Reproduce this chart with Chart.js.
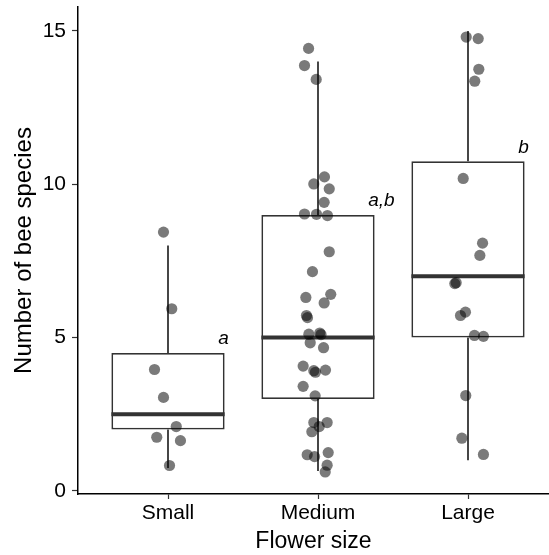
<!DOCTYPE html>
<html>
<head>
<meta charset="utf-8">
<script src="https://cdn.jsdelivr.net/npm/chart.js@4.4.1/dist/chart.umd.min.js"></script>
<style>
  html, body { margin: 0; padding: 0; background: #fff; }
  #chart { display: block; }
</style>
</head>
<body>
<canvas id="chart" width="549" height="555"></canvas>
<script>
// categories
const groups = ['Small', 'Medium', 'Large'];
const letters = ['a', 'a,b', 'b'];

// box stats per group
const whiskerLow  = [0.75, 0.65, 1];
const q1          = [2, 3, 5];
const median      = [2.5, 5, 7];
const q3          = [4.5, 9, 10.75];
const whiskerHigh = [8, 14, 15];

// jittered points: values and horizontal jitter (in category units)
const smallY = [8.44, 5.94, 3.96, 3.05, 2.10, 1.75, 1.64, 0.83];
const smallJit = [-0.03, 0.025, -0.09, -0.03, 0.055, -0.075, 0.083, 0.01];

const mediumY = [14.43, 13.87, 13.42, 10.24, 10.01, 9.85, 9.41, 9.03, 9.02, 8.98,
  7.80, 7.15, 6.41, 6.31, 6.13, 5.72, 5.65, 5.15, 5.10, 5.11, 4.83, 4.67, 4.07,
  3.94, 3.92, 3.87, 3.41, 3.10, 2.23, 2.23, 2.10, 1.93, 1.25, 1.18, 1.12, 0.84, 0.62];
const mediumJit = [-0.063, -0.09, -0.012, 0.043, -0.028, 0.075, 0.041, -0.09, -0.01, 0.063,
  0.075, -0.037, 0.085, -0.081, 0.041, -0.077, -0.07, 0.012, 0.02, -0.061, -0.052, 0.037, -0.099,
  0.05, -0.028, -0.017, -0.099, -0.019, -0.028, 0.061, 0.008, -0.041, 0.068, -0.072, -0.023, 0.061, 0.048];

const largeY = [14.80, 14.75, 13.75, 13.36, 10.19, 8.08, 7.68, 6.79, 6.76, 5.83,
  5.72, 5.07, 5.04, 3.11, 1.72, 1.19];
const largeJit = [-0.012, 0.068, 0.072, 0.045, -0.032, 0.097, 0.079, -0.079, -0.088, -0.017,
  -0.05, 0.043, 0.103, -0.015, -0.041, 0.103];

const yTicks = [0, 5, 10, 15];

const BOX_WIDTH = 0.755;
const FONT = '"Liberation Sans", Arial, sans-serif';
const INK = '#333333';

const pointSets = [[smallY, smallJit], [mediumY, mediumJit], [largeY, largeJit]];
const points = [];
pointSets.forEach((s, g) => {
  s[0].forEach((v, i) => points.push({ x: g + 1 + s[1][i], y: v }));
});

const boxes = groups.map((g, i) => ({ x: i + 1, y: [q1[i], q3[i]] }));

const whiskers = [];
const medians = [];
groups.forEach((g, i) => {
  const x = i + 1;
  whiskers.push({ x, y: q3[i] }, { x, y: whiskerHigh[i] }, { x, y: null });
  whiskers.push({ x, y: q1[i] }, { x, y: whiskerLow[i] }, { x, y: null });
  medians.push({ x: x - BOX_WIDTH / 2, y: median[i] }, { x: x + BOX_WIDTH / 2, y: median[i] }, { x, y: null });
});

// significance letters, drawn at the top right of each box
const letterPlugin = {
  id: 'letters',
  afterDatasetsDraw(chart) {
    const { ctx, scales } = chart;
    ctx.save();
    ctx.fillStyle = '#000';
    ctx.font = 'italic 19px ' + FONT;
    ctx.textAlign = 'left';
    ctx.textBaseline = 'alphabetic';
    letters.forEach((t, i) => {
      const px = scales.x.getPixelForValue(i + 1 + 0.335);
      const py = scales.y.getPixelForValue(q3[i] + 0.28);
      ctx.fillText(t, px, py);
    });
    ctx.restore();
  }
};

new Chart(document.getElementById('chart'), {
  type: 'scatter',
  data: {
    datasets: [
      {
        type: 'scatter',
        data: points,
        backgroundColor: 'rgba(0,0,0,0.52)',
        borderWidth: 0,
        pointRadius: 5.6,
        order: 0
      },
      {
        type: 'line',
        data: medians,
        borderColor: INK,
        borderWidth: 4,
        pointRadius: 0,
        spanGaps: false,
        order: 1
      },
      {
        type: 'line',
        data: whiskers,
        borderColor: INK,
        borderWidth: 1.8,
        pointRadius: 0,
        spanGaps: false,
        order: 2
      },
      {
        type: 'bar',
        data: boxes,
        backgroundColor: '#ffffff',
        borderColor: INK,
        borderWidth: 1.8,
        borderSkipped: false,
        barPercentage: 1,
        categoryPercentage: BOX_WIDTH,
        order: 3
      }
    ]
  },
  options: {
    responsive: false,
    animation: false,
    layout: { autoPadding: false, padding: { top: 7, right: 0, left: 0, bottom: 0 } },
    plugins: { legend: { display: false }, tooltip: { enabled: false } },
    scales: {
      x: {
        type: 'linear',
        min: 0.4,
        max: 3.54,
        offset: false,
        afterBuildTicks: s => { s.ticks = groups.map((g, i) => ({ value: i + 1 })); },
        afterFit: s => { s.height = 61; s.paddingLeft = 0; s.paddingRight = 0; },
        ticks: {
          color: '#000',
          font: { family: FONT, size: 21 },
          padding: 2,
          callback: v => groups[v - 1]
        },
        grid: { display: true, offset: false, drawOnChartArea: false, tickLength: 5, tickColor: INK, tickWidth: 1.2 },
        border: { display: true, color: '#000', width: 1.5 },
        title: {
          display: true,
          text: 'Flower size',
          color: '#000',
          font: { family: FONT, size: 23 },
          padding: { top: 0, bottom: 0 }
        }
      },
      y: {
        type: 'linear',
        min: -0.1,
        max: 15.78,
        afterBuildTicks: s => { s.ticks = yTicks.map(v => ({ value: v })); },
        afterFit: s => { s.width = 78; s.paddingTop = 0; s.paddingBottom = 0; },
        ticks: {
          color: '#000',
          font: { family: FONT, size: 21 },
          padding: 6
        },
        grid: { display: true, drawOnChartArea: false, tickLength: 6, tickColor: INK, tickWidth: 1.2 },
        border: { display: true, color: '#000', width: 1.5 },
        title: {
          display: true,
          text: 'Number of bee species',
          color: '#000',
          font: { family: FONT, size: 24 },
          padding: { top: 10, bottom: 0 }
        }
      }
    }
  },
  plugins: [letterPlugin]
});
</script>
</body>
</html>
